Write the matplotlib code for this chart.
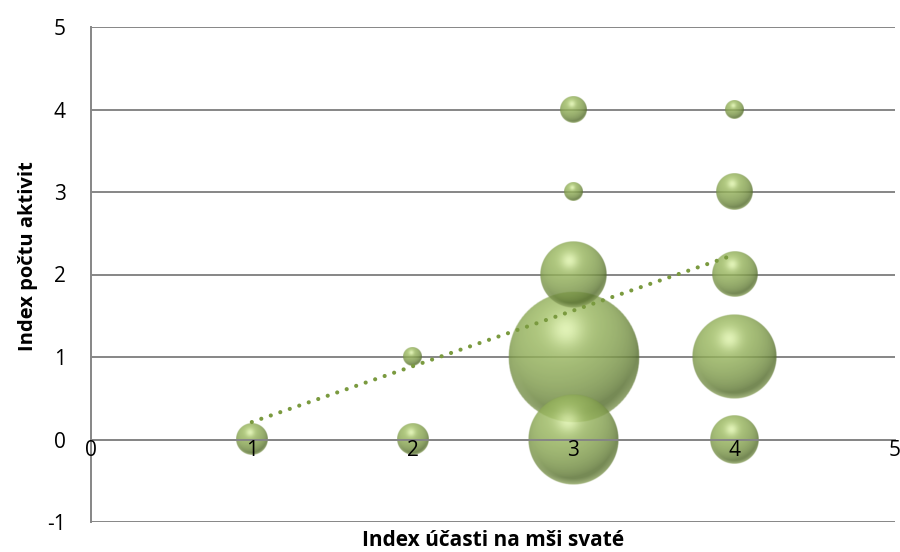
import matplotlib
matplotlib.use('Agg')
import matplotlib.pyplot as plt
import numpy as np

plt.rcParams['axes.unicode_minus'] = False

# data: (x, y, number of respondents)
x_vals = [1, 2, 2, 3, 3, 3, 3, 3, 4, 4, 4, 4, 4]
y_vals = [0, 0, 1, 0, 1, 2, 3, 4, 0, 1, 2, 3, 4]
counts = [3, 3, 1, 24, 51, 13, 1, 2, 7, 21, 6, 4, 1]

x_ticks = [0, 1, 2, 3, 4, 5]
y_ticks = [-1, 0, 1, 2, 3, 4, 5]
x_title = 'Index účasti na mši svaté'
y_title = 'Index počtu aktivit'

W, H, DPI = 900, 552, 100
L, R, T, B = 91, 895, 27, 522


def sphere_image(n=220):
    u = np.linspace(-1, 1, n)
    uu, vv = np.meshgrid(u, -u)
    d2 = uu**2 + vv**2
    d = np.sqrt(d2)
    z = np.sqrt(np.clip(1 - d2, 0, 1))
    light = np.array([-0.25, 0.55, 0.8])
    light = light / np.linalg.norm(light)
    diff = np.clip(uu*light[0] + vv*light[1] + z*light[2], 0, 1)
    dark = np.array([88, 112, 48]) / 255
    base = np.array([158, 188, 98]) / 255
    hi = np.array([228, 248, 178]) / 255
    col = dark[None, None, :] + (base - dark)[None, None, :] * diff[..., None]**0.8
    # soft highlight upper centre
    spot = np.exp(-((uu + 0.12)**2 + (vv - 0.42)**2) / 0.07)
    col = col + (hi - col) * (0.85 * spot)[..., None]
    # light rim at the bottom edge
    rim = np.clip((d - 0.86) / 0.14, 0, 1) * np.clip(-vv, 0, 1)
    col = col + (np.array([190, 210, 140]) / 255 - col) * (0.6 * rim)[..., None]
    alpha = np.clip((1 - d) * n / 3, 0, 1) * 0.82
    img = np.dstack([np.clip(col, 0, 1), alpha])
    return img


fig = plt.figure(figsize=(W/DPI, H/DPI), dpi=DPI)
ax = fig.add_axes([L/W, (H-B)/H, (R-L)/W, (B-T)/H])
ax.set_xlim(0, 5)
ax.set_ylim(-1, 5)

px_x = (R - L) / 5
px_y = (B - T) / 6

for yt in y_ticks:
    ax.axhline(yt, color='#868686', lw=1.4, zorder=1)

img = sphere_image()
order = np.argsort(counts)[::-1]
for i in order:
    r = 9.2 * np.sqrt(counts[i])
    rx, ry = r / px_x, r / px_y
    ax.imshow(img, extent=[x_vals[i]-rx, x_vals[i]+rx, y_vals[i]-ry, y_vals[i]+ry],
              origin='upper', interpolation='bilinear', zorder=2, aspect='auto')

# linear trendline
k, q = np.polyfit(x_vals, y_vals, 1)
tx = np.array([min(x_vals), max(x_vals)])
ax.plot(tx, k*tx + q, color='#7A9A3F', lw=3.0, linestyle=(0, (0.01, 2.4)),
        dash_capstyle='round', zorder=3)

ax.set_xlim(0, 5)
ax.set_ylim(-1, 5)
ax.set_xticks(x_ticks)
ax.set_yticks(y_ticks)

for s in ['top', 'right']:
    ax.spines[s].set_visible(False)
ax.spines['left'].set_color('#868686')
ax.spines['left'].set_linewidth(1.4)
ax.spines['bottom'].set_position(('data', 0))
ax.spines['bottom'].set_color('#868686')
ax.spines['bottom'].set_linewidth(1.4)
ax.tick_params(axis='x', length=0, pad=0, labelsize=15)
ax.tick_params(axis='y', length=0, pad=18, labelsize=15)
for lab in ax.get_xticklabels() + ax.get_yticklabels():
    lab.set_family('Open Sans')
ax.xaxis.set_zorder(5)
ax.yaxis.set_zorder(5)

fig.text((L+R)/2/W, 1-540/H, x_title, ha='center', va='center',
         fontsize=15, fontweight='bold', family='Open Sans')
fig.text(28/W, 1-256/H, y_title, ha='center', va='center', rotation=90,
         fontsize=14.5, fontweight='bold', family='Open Sans')

fig.savefig('out.png', dpi=DPI)
